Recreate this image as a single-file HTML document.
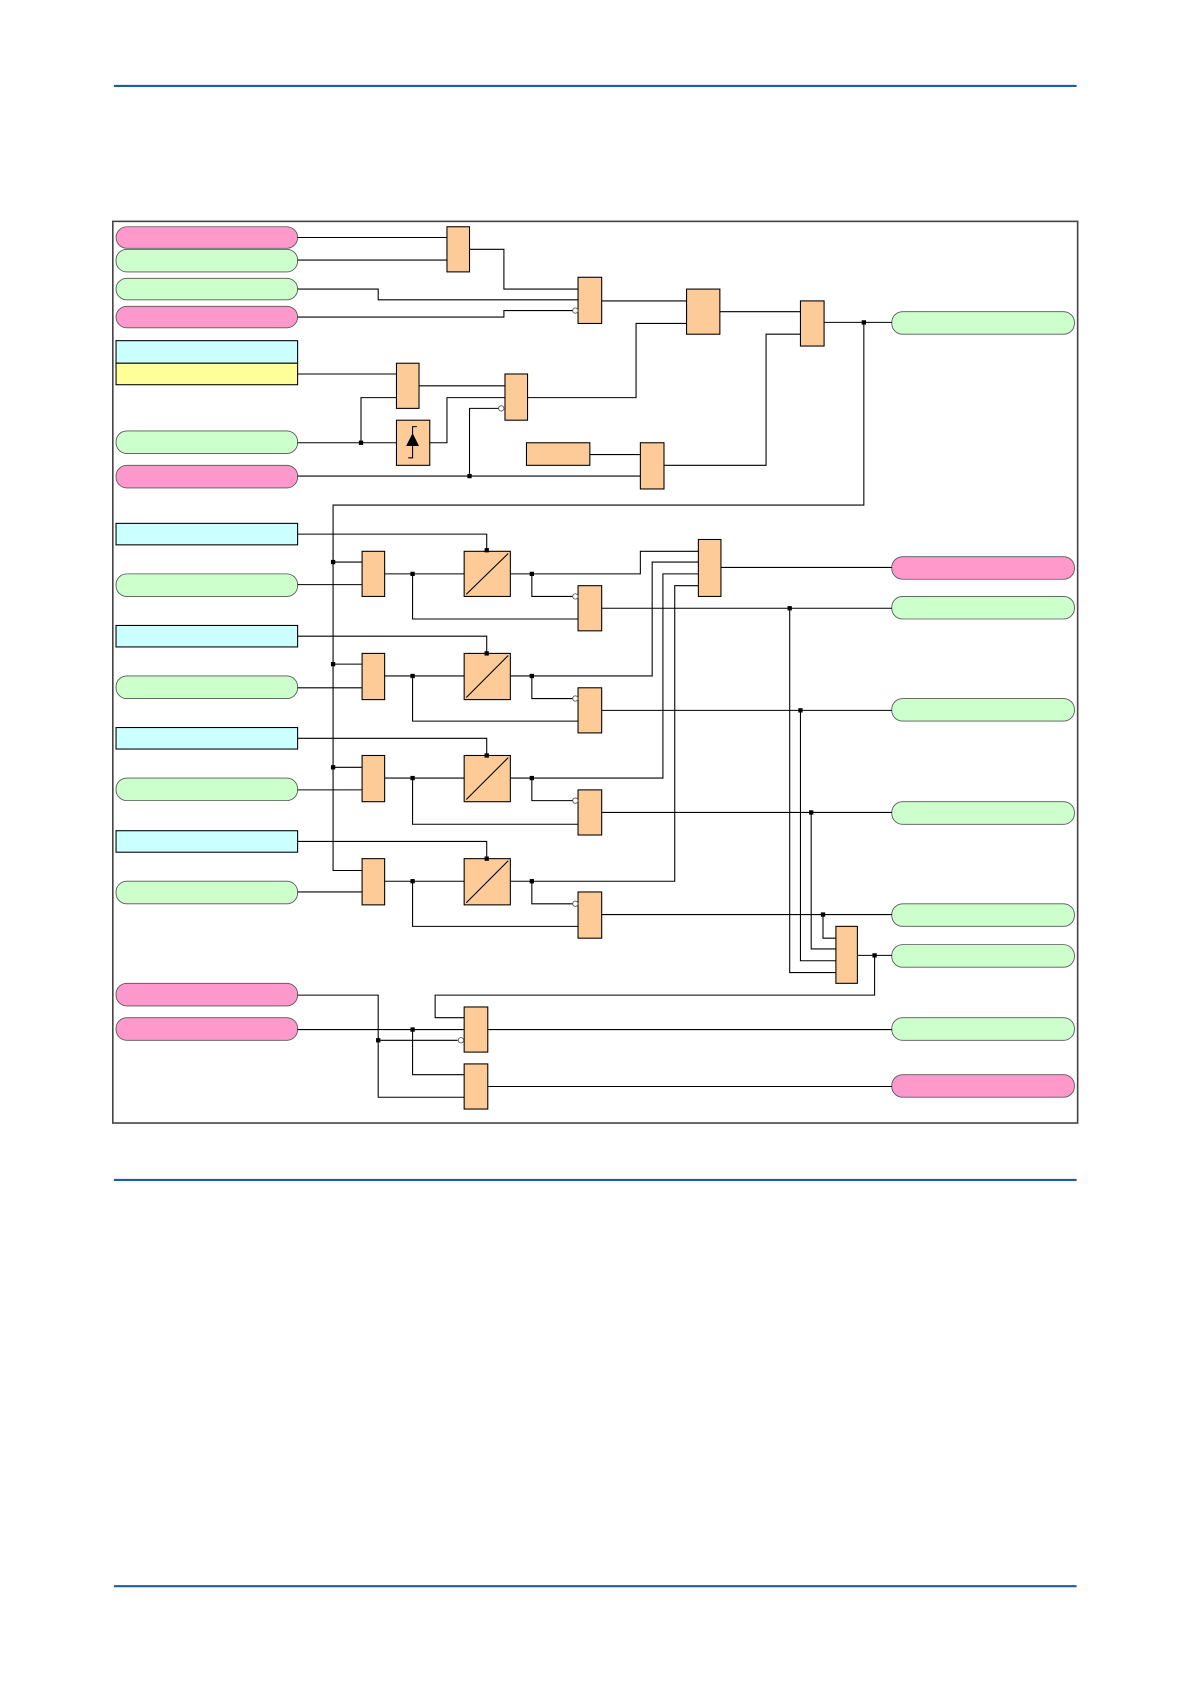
<!DOCTYPE html>
<html><head><meta charset="utf-8"><style>html,body{margin:0;padding:0;background:#fff}svg{display:block}</style></head>
<body>
<svg width="1191" height="1684" viewBox="0 0 1108.5 1567" preserveAspectRatio="none" xmlns="http://www.w3.org/2000/svg">
<g stroke="#1a5ea8" stroke-width="2">
<line x1="106" y1="80" x2="1002" y2="80"/>
<line x1="106" y1="1098" x2="1002" y2="1098"/>
<line x1="106" y1="1476" x2="1002" y2="1476"/>
</g>
<rect x="105" y="206" width="898" height="839" fill="none" stroke="#444" stroke-width="1.5"/>
<g stroke="#555" stroke-width="0.8">
<rect x="108" y="211" width="169" height="20" rx="10" fill="#ff99cc"/>
<rect x="108" y="232" width="169" height="21" rx="10" fill="#ccffcc"/>
<rect x="108" y="259" width="169" height="20" rx="10" fill="#ccffcc"/>
<rect x="108" y="285" width="169" height="20" rx="10" fill="#ff99cc"/>
<rect x="108" y="401" width="169" height="21" rx="10" fill="#ccffcc"/>
<rect x="108" y="433" width="169" height="21" rx="10" fill="#ff99cc"/>
<rect x="108" y="534" width="169" height="21" rx="10" fill="#ccffcc"/>
<rect x="108" y="629" width="169" height="21" rx="10" fill="#ccffcc"/>
<rect x="108" y="724" width="169" height="21" rx="10" fill="#ccffcc"/>
<rect x="108" y="820" width="169" height="21" rx="10" fill="#ccffcc"/>
<rect x="108" y="915" width="169" height="21" rx="10" fill="#ff99cc"/>
<rect x="108" y="947" width="169" height="21" rx="10" fill="#ff99cc"/>
<rect x="830" y="290" width="170" height="21" rx="10" fill="#ccffcc"/>
<rect x="830" y="518" width="170" height="21" rx="10" fill="#ff99cc"/>
<rect x="830" y="555" width="170" height="21" rx="10" fill="#ccffcc"/>
<rect x="830" y="650" width="170" height="21" rx="10" fill="#ccffcc"/>
<rect x="830" y="746" width="170" height="21" rx="10" fill="#ccffcc"/>
<rect x="830" y="841" width="170" height="21" rx="10" fill="#ccffcc"/>
<rect x="830" y="879" width="170" height="21" rx="10" fill="#ccffcc"/>
<rect x="830" y="947" width="170" height="21" rx="10" fill="#ccffcc"/>
<rect x="830" y="1000" width="170" height="21" rx="10" fill="#ff99cc"/>
</g>
<g stroke="#000" stroke-width="1">
<rect x="108" y="317" width="169" height="21" fill="#ccffff"/>
<rect x="108" y="338" width="169" height="20" fill="#ffff99"/>
<rect x="108" y="487" width="169" height="20" fill="#ccffff"/>
<rect x="108" y="582" width="169" height="20" fill="#ccffff"/>
<rect x="108" y="677" width="169" height="20" fill="#ccffff"/>
<rect x="108" y="773" width="169" height="20" fill="#ccffff"/>
</g>
<g stroke="#000" stroke-width="1" fill="none">
<polyline points="277,221 416,221"/>
<polyline points="277,242 416,242"/>
<polyline points="437,232 469,232 469,269 538,269"/>
<polyline points="277,269 352,269 352,279 538,279"/>
<polyline points="277,295 469,295 469,289 533,289"/>
<polyline points="560,280 639,280"/>
<polyline points="491,370 592,370 592,301 639,301"/>
<polyline points="670,290 745,290"/>
<polyline points="618,433 713,433 713,311 745,311"/>
<polyline points="767,300 830,300"/>
<polyline points="804,300 804,470 310,470 310,810 337,810"/>
<polyline points="277,348 369,348"/>
<polyline points="369,370 336,370 336,412"/>
<polyline points="277,412 369,412"/>
<polyline points="390,359 470,359"/>
<polyline points="400,412 416,412 416,370 470,370"/>
<polyline points="437,443 437,380 464,380"/>
<polyline points="277,443 596,443"/>
<polyline points="549,423 596,423"/>
<polyline points="277,497 453,497 453,513"/>
<polyline points="310,523 337,523"/>
<polyline points="277,544 337,544"/>
<polyline points="358,534 432,534"/>
<polyline points="384,534 384,576 538,576"/>
<polyline points="475,534 596,534 596,513 650,513"/>
<polyline points="495,534 495,555 533,555"/>
<polyline points="560,566 830,566"/>
<polyline points="277,592 453,592 453,608"/>
<polyline points="310,618 337,618"/>
<polyline points="277,640 337,640"/>
<polyline points="358,629 432,629"/>
<polyline points="384,629 384,671 538,671"/>
<polyline points="475,629 607,629 607,523 650,523"/>
<polyline points="495,629 495,650 533,650"/>
<polyline points="560,661 830,661"/>
<polyline points="277,687 453,687 453,703"/>
<polyline points="310,714 337,714"/>
<polyline points="277,735 337,735"/>
<polyline points="358,724 432,724"/>
<polyline points="384,724 384,767 538,767"/>
<polyline points="475,724 617,724 617,534 650,534"/>
<polyline points="495,724 495,745 533,745"/>
<polyline points="560,756 830,756"/>
<polyline points="277,783 453,783 453,799"/>
<polyline points="277,830 337,830"/>
<polyline points="358,820 432,820"/>
<polyline points="384,820 384,862 538,862"/>
<polyline points="475,820 628,820 628,545 650,545"/>
<polyline points="495,820 495,841 533,841"/>
<polyline points="560,851 830,851"/>
<polyline points="671,528 830,528"/>
<polyline points="735,566 735,905 778,905"/>
<polyline points="745,661 745,894 778,894"/>
<polyline points="755,756 755,883 778,883"/>
<polyline points="766,851 766,873 778,873"/>
<polyline points="798,889 830,889"/>
<polyline points="814,889 814,926 405,926 405,947 432,947"/>
<polyline points="277,926 352,926 352,1021 432,1021"/>
<polyline points="277,958 432,958"/>
<polyline points="352,968 426,968"/>
<polyline points="384,958 384,1000 432,1000"/>
<polyline points="454,958 830,958"/>
<polyline points="454,1011 830,1011"/>
</g>
<g fill="#fdcb98" stroke="#000" stroke-width="1">
<rect x="416" y="211" width="21" height="42"/>
<rect x="538" y="258" width="22" height="43"/>
<rect x="639" y="269" width="31" height="42"/>
<rect x="745" y="280" width="22" height="42"/>
<rect x="369" y="338" width="21" height="42"/>
<rect x="369" y="391" width="31" height="42"/>
<rect x="470" y="348" width="21" height="43"/>
<rect x="490" y="412" width="59" height="21"/>
<rect x="596" y="412" width="22" height="43"/>
<rect x="337" y="513" width="21" height="42"/>
<rect x="432" y="513" width="43" height="42"/>
<rect x="538" y="545" width="22" height="42"/>
<rect x="650" y="502" width="21" height="53"/>
<rect x="337" y="608" width="21" height="43"/>
<rect x="432" y="608" width="43" height="43"/>
<rect x="538" y="640" width="22" height="42"/>
<rect x="337" y="703" width="21" height="43"/>
<rect x="432" y="703" width="43" height="43"/>
<rect x="538" y="735" width="22" height="42"/>
<rect x="337" y="799" width="21" height="43"/>
<rect x="432" y="799" width="43" height="43"/>
<rect x="538" y="830" width="22" height="43"/>
<rect x="778" y="862" width="20" height="53"/>
<rect x="432" y="937" width="22" height="42"/>
<rect x="432" y="990" width="22" height="42"/>
</g>
<g stroke="#000" stroke-width="1">
<line x1="434" y1="553" x2="473" y2="515"/>
<line x1="434" y1="649" x2="473" y2="610"/>
<line x1="434" y1="744" x2="473" y2="705"/>
<line x1="434" y1="840" x2="473" y2="801"/>
<polyline points="380,426 384,426 384,397 388,397" fill="none"/>
</g>
<polygon points="384,403 378,415 390,415" fill="#000"/>
<g fill="#fff" stroke="#555" stroke-width="0.8">
<circle cx="535.5" cy="289" r="2.5"/>
<circle cx="466.5" cy="380" r="2.5"/>
<circle cx="535.5" cy="555" r="2.5"/>
<circle cx="535.5" cy="650" r="2.5"/>
<circle cx="535.5" cy="745" r="2.5"/>
<circle cx="535.5" cy="841" r="2.5"/>
<circle cx="429" cy="968" r="2.5"/>
</g>
<g fill="#000">
<rect x="802" y="298" width="4" height="4"/>
<rect x="334" y="410" width="4" height="4"/>
<rect x="435" y="441" width="4" height="4"/>
<rect x="308" y="521" width="4" height="4"/>
<rect x="308" y="616" width="4" height="4"/>
<rect x="308" y="712" width="4" height="4"/>
<rect x="382" y="532" width="4" height="4"/>
<rect x="382" y="627" width="4" height="4"/>
<rect x="382" y="722" width="4" height="4"/>
<rect x="382" y="818" width="4" height="4"/>
<rect x="493" y="532" width="4" height="4"/>
<rect x="493" y="627" width="4" height="4"/>
<rect x="493" y="722" width="4" height="4"/>
<rect x="493" y="818" width="4" height="4"/>
<rect x="451" y="510" width="4" height="4"/>
<rect x="451" y="606" width="4" height="4"/>
<rect x="451" y="701" width="4" height="4"/>
<rect x="451" y="797" width="4" height="4"/>
<rect x="733" y="564" width="4" height="4"/>
<rect x="743" y="659" width="4" height="4"/>
<rect x="753" y="754" width="4" height="4"/>
<rect x="764" y="849" width="4" height="4"/>
<rect x="812" y="887" width="4" height="4"/>
<rect x="350" y="966" width="4" height="4"/>
<rect x="382" y="956" width="4" height="4"/>
</g>
</svg>
</body></html>
